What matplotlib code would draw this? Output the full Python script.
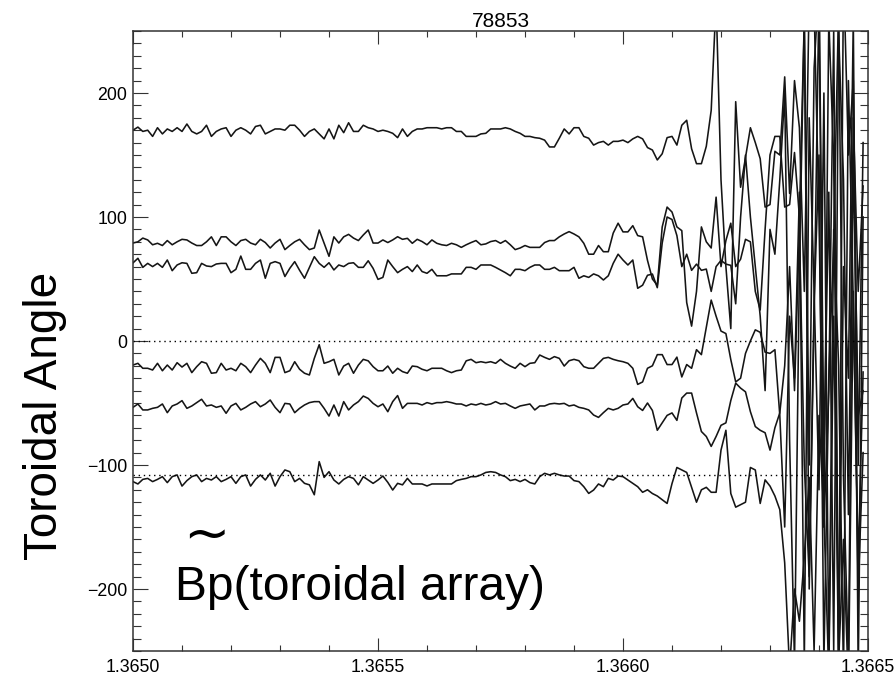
import numpy as np
import matplotlib.pyplot as plt
from matplotlib.ticker import MultipleLocator, FormatStrFormatter

# time base: 150 samples, 10 us apart, starting at 1.3650 s
t_start = 1.3650
t_step = 1e-5
n_samples = 150

# six toroidal-array probe traces (offset by toroidal angle)
probe_a = [
    170, 172.5, 169, 170, 165, 172, 167, 171, 169, 172,
    169, 175, 169, 167, 169, 174, 165, 169, 171, 172,
    165, 170, 172, 170, 167, 173, 174, 167, 169, 171,
    171, 170, 174, 174, 170, 165, 169, 171, 167, 163,
    171, 163, 174, 168, 176, 169, 169, 174, 172, 171,
    169, 170, 169, 167.5, 164, 171, 165, 169, 171, 171,
    172, 172, 172, 171, 172, 172, 169, 169, 165, 165,
    165, 167, 167.5, 171, 171, 171, 172, 171, 169, 167.5,
    165, 165, 164, 163.5, 162, 156.5, 156.5, 163.5, 171, 167,
    172, 172, 165, 163.5, 158, 160, 161, 158, 161, 161,
    162, 160, 163, 165, 163, 156, 154, 146, 151, 164,
    165, 158, 174, 178, 155, 143, 143, 157, 186, 275,
    130, 60, 10, 193, 124, 148, 172, 160, 147, 108,
    110, 153, 150, 213, 119, 210, 172, 40, 280, 270,
    100, -150, 260, 146, -260, 300, 150, 210, -100, 160,
]
probe_b = [
    79, 80, 83, 81.5, 77.6, 78.8, 77, 81, 77.6, 80,
    82, 81.5, 79, 77, 77, 80, 84, 77, 84, 84,
    80, 77, 81, 82, 79, 77.6, 82, 79.4, 75, 79,
    82, 73.7, 77, 80, 82, 77.6, 73.7, 75, 89.5, 79,
    68.3, 84, 79, 84, 86, 83, 81, 85.5, 89.5, 79,
    79, 81.5, 79.4, 81.5, 84.1, 82, 82.8, 78.8, 82, 80.2,
    77.6, 81.5, 78.8, 77.6, 77, 78.8, 77.6, 75.5, 77.6, 79.4,
    81, 77.6, 78.3, 80.2, 81, 78.8, 81, 77.6, 73.7, 75,
    77, 75.5, 75.5, 75.5, 79.4, 81, 81, 84, 86.3, 88.2,
    86.3, 84, 78.8, 70, 70, 77, 72, 72, 87, 95,
    88, 88, 93, 85, 84, 65, 50, 45, 92, 108,
    104, 92, 89, 31, 12, 40, 92, 80, 75, 116,
    60, 81, 95, 60, 66, 82, 80, 40, 25, 90,
    150, 165, 165, 108, 110, 152, 100, 260, -100, 220,
    290, -90, 120, -250, 250, 130, -140, 180, 40, 125,
]
probe_c = [
    63, 66.7, 59.4, 62.6, 60, 62.6, 59.4, 65.3, 56.7, 61.3,
    63.1, 62.6, 54.6, 55.1, 62.6, 60.5, 60, 62.1, 62.6, 62.6,
    55.1, 57.8, 68.5, 57.8, 57.8, 62.6, 65.3, 50.6, 62.6, 64,
    62.6, 52, 58.6, 64, 57, 50.6, 59.4, 68, 62.6, 59.4,
    63.1, 57.3, 61.3, 60, 62.6, 63.1, 59.4, 59.4, 64.7, 58.6,
    49.7, 51.3, 65.3, 60, 55.1, 57.8, 60, 56, 61.3, 56,
    54.6, 57.8, 52.6, 52.6, 52.6, 54.1, 54.1, 54.1, 59.4, 59.4,
    57.8, 61.3, 61.3, 61.3, 59.4, 57.3, 55.1, 52.6, 57.8, 57.8,
    56.7, 59.4, 61.3, 61.3, 57.8, 57.8, 59.4, 56.7, 56.7, 56.7,
    59.4, 50.6, 52.6, 51.3, 54.1, 52.6, 49.2, 52.6, 62.6, 70,
    65.3, 61.3, 65.3, 42.5, 45, 53, 54, 43, 79, 100,
    98, 85, 60, 70, 57, 62, 57, 58, 40, 60,
    65, 62, 61, 30, 100, 150, 100, 60, 20, -40,
    90, 70, 130, 200, -80, -260, 60, 260, -200, 20,
    280, -150, -40, 250, -260, 60, -30, 260, -270, 100,
]
probe_d = [
    -19.4, -18, -22, -22, -23.4, -18, -24, -19.4, -23.4, -17.5,
    -21, -18, -25.5, -20.7, -16.7, -18, -26, -25.5, -18, -23.4,
    -22, -24, -18, -20.7, -25.5, -19.4, -14, -18, -25.5, -13.2,
    -13.2, -25.5, -24, -16.7, -22.8, -26, -27.4, -14, -3, -18,
    -16.7, -14.8, -27.4, -20.2, -18, -26, -19.4, -14.8, -16, -20.7,
    -24, -24, -20.2, -26, -22, -24.7, -26, -20.2, -20.7, -22.8,
    -24, -22, -22, -22, -24, -25.5, -24, -23.4, -16, -14.8,
    -17.5, -16.7, -17.5, -16.7, -18, -14.8, -18, -20.2, -22, -18,
    -20.7, -18, -17.5, -11.3, -13.2, -14.8, -12.6, -14, -20.2, -15.9,
    -14.8, -15.9, -20.7, -22, -22, -18, -14, -13.2, -14.8, -15.9,
    -16.7, -18, -22, -35, -33, -22, -20, -11, -11, -19,
    -19, -13, -29, -19, -22, -7, -11, 11, 33, 20,
    8, 6, -15, -33, -30, -10, 0, 9, 7, -9,
    -10, -7, -60, -150, 20, -30, 120, -260, 180, 40,
    -120, 200, -260, 90, -20, -270, 210, 30, -180, -25,
]
probe_e = [
    -53.5, -50.8, -55.6, -55.6, -54.3, -53.5, -50.8, -57.8, -52.4, -50.8,
    -48.1, -54.3, -52.4, -49.7, -47, -52.4, -51.6, -53.5, -52.4, -58.3,
    -52.4, -50.3, -55.6, -53.5, -50.8, -48.9, -53, -50.8, -47.6, -53.5,
    -57.8, -50.3, -50.8, -57.8, -54.3, -51.6, -49.7, -48.9, -48.9, -54.3,
    -60.5, -51.6, -60.5, -48.9, -55.6, -51.6, -48.9, -44.4, -46.3, -50.3,
    -53, -50.8, -57, -48.9, -44, -54.3, -50.3, -50.3, -50.3, -51.6,
    -49.7, -50.8, -49.7, -49.7, -48.9, -49.7, -50.8, -50.8, -52.4, -50.8,
    -51.6, -50.3, -51.6, -50.8, -48.9, -50.8, -50.3, -52.4, -54.3, -52.4,
    -51.6, -50.8, -55.6, -52.4, -52.4, -50.8, -50.3, -50.8, -50.3, -52.4,
    -51.6, -53.5, -54.3, -55.6, -59.7, -61.6, -57.8, -54.3, -55.6, -54.3,
    -51.6, -50.8, -46.3, -53, -56, -50, -56, -72, -66, -60,
    -58, -64, -46, -42, -42, -58, -73, -77, -85, -77,
    -68, -66, -48, -34, -38, -41, -57, -69, -72, -74,
    -88, -70, -58, -20, 60, -40, 90, -100, -190, 30,
    150, -260, -30, 80, 270, -110, -260, 150, -60, -40,
]
probe_f = [
    -113.4, -115.3, -111.6, -110.8, -113.4, -111.6, -109.4, -114.2, -109.4, -108,
    -117, -112.6, -109.4, -108, -113.4, -110.8, -112.1, -109.4, -113.4, -111.6,
    -109.4, -114.8, -109.4, -108, -117, -111.6, -108, -112.1, -106.7, -117,
    -109.4, -104, -105.4, -113.4, -110.8, -114.8, -116, -124, -97.3, -110,
    -105.4, -112.1, -115.3, -111.6, -109.4, -110.8, -116, -109.4, -112.1, -114.8,
    -112.1, -108.9, -114, -120.2, -114.8, -116, -110.8, -115.3, -115.3, -115.3,
    -116.9, -115.3, -115.3, -115.3, -115.3, -115.3, -112.6, -111.6, -110.8, -109.4,
    -109.4, -108, -106, -105.4, -106, -108, -109.4, -112.6, -111.6, -113.4,
    -111.6, -114.2, -115.3, -109.4, -106.7, -108, -106.7, -108, -108.9, -108.9,
    -112.6, -113.4, -117.5, -122.9, -120.2, -115.3, -117.5, -110.8, -112.1, -108.9,
    -109.4, -112.1, -114.8, -117.5, -122, -120, -123, -125, -128, -131,
    -115, -102, -104, -106, -118, -130, -120, -118, -122, -122,
    -88, -72, -123, -134, -132, -130, -102, -104, -131, -112,
    -117, -125, -136, -179, -265, -200, -226, -174, -110, -250,
    -60, -140, -270, 20, -260, -160, -280, 40, -200, -90,
]
probes = [probe_a, probe_b, probe_c, probe_d, probe_e, probe_f]

# reference (dotted) levels
ref_levels = [0, -108]

shot = "78853"
y_label = "Toroidal Angle"
note = "Bp(toroidal array)"

t = t_start + t_step * np.arange(n_samples)

fig = plt.figure(figsize=(8.95, 6.77), dpi=100)
ax = fig.add_axes([133 / 895, 1 - 651 / 677, 735 / 895, 620 / 677])

for p in probes:
    ax.plot(t, p, color="#151515", lw=1.15)
for lvl in ref_levels:
    ax.axhline(lvl, color="black", lw=1.0, ls=(0, (1, 2.7)))

ax.set_xlim(1.3650, 1.3665)
ax.set_ylim(-250, 250)
ax.xaxis.set_major_locator(MultipleLocator(0.0005))
ax.xaxis.set_minor_locator(MultipleLocator(0.0001))
ax.xaxis.set_major_formatter(FormatStrFormatter("%.4f"))
ax.yaxis.set_major_locator(MultipleLocator(100))
ax.yaxis.set_minor_locator(MultipleLocator(10))

ax.tick_params(direction="in", top=True, right=True, which="both",
               width=0.8, color="#333333", labelsize=12.8)
ax.tick_params(axis="x", which="major", length=9.4, pad=6)
ax.tick_params(axis="x", which="minor", length=4.3)
ax.tick_params(axis="y", which="major", length=10.8, pad=4)
ax.tick_params(axis="y", which="minor", length=5.8)
for lab in ax.get_xticklabels() + ax.get_yticklabels():
    lab.set_family("Liberation Sans")
for s in ax.spines.values():
    s.set_linewidth(1.1)
    s.set_color("#333333")

ax.set_title(shot, fontsize=15, family="Liberation Sans", pad=3)

fig.text(45 / 895, 1 - 416 / 677, y_label, rotation=90, ha="center",
         va="center", fontsize=33, family="Liberation Sans")
fig.text(175 / 895, 1 - 600 / 677, note, ha="left", va="baseline",
         fontsize=34.5, family="Liberation Sans")
fig.text(206 / 895, 1 - 551 / 677, "~", ha="center", va="baseline",
         fontsize=40, family="DejaVu Sans")

fig.savefig("out.png", dpi=100)
